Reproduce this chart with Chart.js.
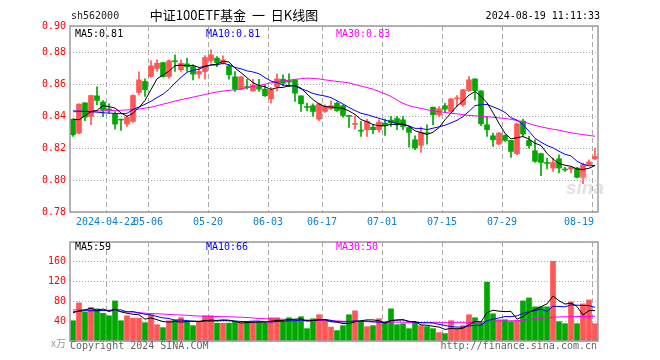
<!DOCTYPE html>
<html><head><meta charset="utf-8">
<script src="https://cdn.jsdelivr.net/npm/chart.js@4.4.0/dist/chart.umd.min.js"></script>
<style>
html,body{margin:0;padding:0;background:#fff;}
#wrap{position:relative;width:660px;height:360px;overflow:hidden;background:#fff;}
#pc{position:absolute;left:0;top:0;}
#vc{position:absolute;left:0;top:232px;}
</style></head><body>
<div id="wrap"><canvas id="pc" width="660" height="232"></canvas><canvas id="vc" width="660" height="128"></canvas></div>
<script>
const year = '2024';
const dates = ['04-12','04-15','04-16','04-17','04-18','04-19','04-22','04-23','04-24','04-25','04-26','04-29','04-30',
'05-06','05-07','05-08','05-09','05-10','05-13','05-14','05-15','05-16','05-17','05-20','05-21','05-22','05-23','05-24','05-27','05-28','05-29','05-30','05-31',
'06-03','06-04','06-05','06-06','06-07','06-11','06-12','06-13','06-14','06-17','06-18','06-19','06-20','06-21','06-24','06-25','06-26','06-27','06-28',
'07-01','07-02','07-03','07-04','07-05','07-08','07-09','07-10','07-11','07-12','07-15','07-16','07-17','07-18','07-19','07-22','07-23','07-24','07-25','07-26','07-29','07-30','07-31',
'08-01','08-02','08-05','08-06','08-07','08-08','08-09','08-12','08-13','08-14','08-15','08-16','08-19'];

const openP = [0.8381,0.8294,0.8483,0.8398,0.8527,0.8488,0.8442,0.8415,0.8379,0.8350,0.8367,0.8548,0.8617,
0.8648,0.8698,0.8735,0.8648,0.8744,0.8690,0.8727,0.8710,0.8663,0.8679,0.8748,0.8763,0.8731,0.8715,0.8646,0.8569,0.8581,0.8558,0.8585,0.8569,
0.8508,0.8585,0.8631,0.8623,0.8627,0.8527,0.8456,0.8465,0.8381,0.8429,0.8446,0.8481,0.8465,0.8400,0.8348,0.8310,0.8315,0.8331,0.8315,
0.8356,0.8375,0.8385,0.8377,0.8329,0.8252,0.8217,0.8296,0.8456,0.8408,0.8465,0.8429,0.8508,0.8471,0.8560,0.8633,0.8558,0.8346,0.8277,0.8225,0.8279,0.8248,0.8165,
0.8369,0.8248,0.8183,0.8165,0.8108,0.8075,0.8133,0.8067,0.8069,0.8075,0.8017,0.8096,0.8133];
const highP = [0.8383,0.8477,0.8485,0.8530,0.8583,0.8498,0.8477,0.8429,0.8381,0.8402,0.8533,0.8677,0.8633,
0.8748,0.8752,0.8737,0.8752,0.8783,0.8752,0.8763,0.8721,0.8700,0.8779,0.8815,0.8773,0.8777,0.8721,0.8679,0.8648,0.8631,0.8631,0.8631,0.8596,
0.8579,0.8665,0.8658,0.8665,0.8627,0.8527,0.8481,0.8477,0.8481,0.8471,0.8496,0.8488,0.8471,0.8402,0.8402,0.8367,0.8381,0.8346,0.8377,
0.8381,0.8398,0.8398,0.8398,0.8329,0.8277,0.8331,0.8346,0.8456,0.8460,0.8480,0.8510,0.8529,0.8567,0.8648,0.8633,0.8558,0.8398,0.8294,0.8298,0.8283,0.8248,0.8356,
0.8381,0.8273,0.8252,0.8169,0.8138,0.8138,0.8158,0.8079,0.8083,0.8079,0.8106,0.8127,0.8200];
const lowP = [0.8273,0.8288,0.8371,0.8346,0.8471,0.8396,0.8419,0.8319,0.8310,0.8335,0.8360,0.8533,0.8523,
0.8644,0.8679,0.8644,0.8638,0.8679,0.8679,0.8679,0.8627,0.8638,0.8631,0.8731,0.8710,0.8725,0.8631,0.8554,0.8565,0.8569,0.8554,0.8554,0.8523,
0.8481,0.8560,0.8590,0.8585,0.8492,0.8429,0.8433,0.8398,0.8371,0.8423,0.8440,0.8429,0.8394,0.8329,0.8319,0.8273,0.8273,0.8290,0.8300,
0.8279,0.8335,0.8315,0.8315,0.8205,0.8190,0.8173,0.8225,0.8346,0.8398,0.8423,0.8425,0.8460,0.8460,0.8554,0.8502,0.8340,0.8273,0.8210,0.8221,0.8242,0.8142,0.8158,
0.8273,0.8200,0.8110,0.8027,0.8069,0.8054,0.8044,0.8054,0.8044,0.8013,0.7977,0.8096,0.8127];
const closeP = [0.8283,0.8475,0.8394,0.8529,0.8498,0.8438,0.8438,0.8350,0.8375,0.8394,0.8529,0.8627,0.8565,
0.8715,0.8731,0.8648,0.8746,0.8740,0.8731,0.8710,0.8663,0.8679,0.8767,0.8783,0.8735,0.8752,0.8658,0.8569,0.8646,0.8579,0.8596,0.8569,0.8527,
0.8565,0.8633,0.8606,0.8613,0.8544,0.8477,0.8454,0.8429,0.8477,0.8460,0.8465,0.8435,0.8404,0.8398,0.8350,0.8306,0.8367,0.8315,0.8363,
0.8344,0.8358,0.8350,0.8335,0.8298,0.8200,0.8300,0.8290,0.8408,0.8446,0.8444,0.8508,0.8512,0.8565,0.8627,0.8560,0.8352,0.8315,0.8252,0.8294,0.8248,0.8179,0.8352,
0.8288,0.8215,0.8117,0.8110,0.8104,0.8110,0.8075,0.8063,0.8079,0.8017,0.8096,0.8113,0.8148];
const volume = [41,77,58,68,65,56,51,81,41,51,46,46,37,
53,33,27,41,43,47,39,31,39,51,51,36,36,36,39,36,39,39,39,36,
47,47,39,47,41,49,25,45,53,43,28,21,31,53,61,39,29,31,45,
37,65,33,35,25,39,31,29,25,17,15,41,25,31,53,47,37,119,55,43,43,39,41,
81,87,69,69,69,161,39,35,79,35,75,83,35];

const ma30Price = [0.8427,0.8428,0.8429,0.8430,0.8432,0.8433,0.8434,0.8436,0.8437,0.8439,0.8441,
0.8444,0.8450,0.8456,0.8465,0.8475,0.8484,0.8494,0.8503,0.8511,0.8519,
0.8527,0.8535,0.8544,0.8551,0.8557,0.8561,0.8565,0.8569,0.8578,0.8586,
0.8592,0.8600,0.8608,0.8615,0.8620,0.8625,0.8630,0.8634,0.8638,0.8636,
0.8633,0.8627,0.8622,0.8617,0.8613,0.8608,0.8598,0.8588,0.8579,0.8569,
0.8554,0.8540,0.8523,0.8500,0.8480,0.8465,0.8456,0.8448,0.8440,0.8433,
0.8428,0.8423,0.8418,0.8414,0.8409,0.8404,0.8402,0.8399,0.8396,0.8393,
0.8389,0.8385,0.8380,0.8372,0.8365,0.8354,0.8342,0.8333,0.8325,0.8318,
0.8312,0.8303,0.8296,0.8290,0.8284,0.8279,0.8274];
const ma5PriceLead = [0.8381,0.8377,0.8402,0.8429];
const ma10PriceLead = [0.8433,0.8431,0.8430,0.8427,0.8425,0.8421,0.8419,0.8417,0.8415];
const ma30Vol = [63,62.8,62.5,62.2,62,61.5,61,60.5,59.5,59,58.5,
57.5,56,55.5,55,54.5,53.5,53,52.5,52,51,
50.5,50,49.5,49.5,49,49,48.5,48,47.5,46.5,
45.5,45,44.5,44,44,43.5,43,42.5,42.5,42,
41.5,41,41,40.5,40,39.5,39.5,39,39,38.5,
38.5,38.5,38,38,38,37.5,37.5,37,37,37,
37,37,37,37,37,37,37.5,38.5,39.5,40,
40.5,40.5,41,41,42,43.5,45,46,47,48,
48.5,49,49,49.5,49.5,50,50];
const ma5VolLead = [57,61,63,66];
const ma10VolLead = [59,60,61,61,61,62,62,63,63];

// legend values as printed on the reference
const priceLegend = ['0.81', '0.81', '0.83'];
const volLegend = ['59', '66', '50'];

const priceTicks = [0.78,0.80,0.82,0.84,0.86,0.88];
const priceTop = 0.8964, priceTopLabel = '0.90';
const volTicks = [0,40,80,120,160,200];
const dateTicks = ['04-22','05-06','05-20','06-03','06-17','07-01','07-15','07-29','08-19'];

const UP = '#ff5656', DOWN = '#00a800';
const MONO = "'DejaVu Sans Mono', 'Liberation Mono', monospace";

function movingAvg(arr, n, lead) {
  return arr.map((v, i) => i < lead.length ? lead[i] : arr.slice(i - n + 1, i + 1).reduce((a, b) => a + b, 0) / n);
}
const candleColor = closeP.map((c, i) => c >= openP[i] ? UP : DOWN);
const ma5Price = movingAvg(closeP, 5, ma5PriceLead);
const ma10Price = movingAvg(closeP, 10, ma10PriceLead);
const ma5Vol = movingAvg(volume, 5, ma5VolLead);
const ma10Vol = movingAvg(volume, 10, ma10VolLead);
const tickIdx = dateTicks.map(d => dates.indexOf(d));

function xScaleOpts(h) {
  return {
    type: 'category', offset: true,
    grid: { offset: true, drawTicks: false, lineWidth: 1,
      color: c => tickIdx.includes(c.index) ? '#a8a8a8' : 'rgba(0,0,0,0)' },
    border: { display: false, dash: [5, 3] },
    ticks: { display: false },
    afterFit: s => { s.height = h; }
  };
}
const framePlugin = { id: 'frame', afterDraw(chart) {
  const a = chart.chartArea, ctx = chart.ctx;
  ctx.save(); ctx.strokeStyle = '#9a9a9a'; ctx.lineWidth = 1.5;
  ctx.strokeRect(a.left, a.top, a.right - a.left, a.bottom - a.top);
  ctx.restore();
}};
function lineDs(data, color, order) {
  return { type: 'line', data, borderColor: color, borderWidth: 1, pointRadius: 0, tension: 0, order, fill: false };
}

const priceText = { id: 'priceText', afterDraw(chart) {
  const ctx = chart.ctx, a = chart.chartArea, xs = chart.scales.x;
  ctx.save();
  ctx.textBaseline = 'middle';
  ctx.font = '10px ' + MONO; ctx.fillStyle = '#222'; ctx.textAlign = 'left';
  ctx.fillText('sh562000', 71, 16);
  ctx.textAlign = 'right'; ctx.fillStyle = '#000';
  ctx.fillText('2024-08-19 11:11:33', 600, 16);
  ctx.textAlign = 'center'; ctx.font = "13px 'Noto Sans CJK SC'"; ctx.fillStyle = '#000';
  ctx.fillText('中证100ETF基金  一  日K线图', 234, 15);
  ctx.font = '10px ' + MONO; ctx.textAlign = 'left';
  ctx.fillStyle = '#000'; ctx.fillText('MA5:' + priceLegend[0], 75, 34);
  ctx.fillStyle = '#0000ff'; ctx.fillText('MA10:' + priceLegend[1], 206, 34);
  ctx.fillStyle = '#ff00ff'; ctx.fillText('MA30:' + priceLegend[2], 336, 34);
  // date labels
  ctx.fillStyle = '#0a7fd0'; ctx.font = '10px ' + MONO;
  const slot = (a.right - a.left) / dates.length;
  tickIdx.forEach((ix, k) => {
    const x = xs.getPixelForValue(ix) - slot / 2;
    const txt = k === 0 ? year + '-' + dateTicks[k] : dateTicks[k];
    if (k === tickIdx.length - 1) { ctx.textAlign = 'right'; ctx.fillText(txt, a.right - 4, 222); }
    else { ctx.textAlign = 'center'; ctx.fillText(txt, x, 222); }
  });
  // watermark
  ctx.font = "bold italic 19px 'Liberation Sans'"; ctx.fillStyle = 'rgba(180,180,180,0.4)'; ctx.textAlign = 'left';
  ctx.fillText('sina', 566, 189);
  ctx.beginPath(); ctx.arc(584, 176, 4, 0, Math.PI * 2); ctx.fillStyle = 'rgba(240,160,160,0.35)'; ctx.fill();
  ctx.restore();
}};

new Chart(document.getElementById('pc'), {
  type: 'bar',
  data: { labels: dates, datasets: [
    lineDs(ma5Price, '#000000', 0),
    lineDs(ma10Price, '#0000ff', 1),
    lineDs(ma30Price, '#ff00ff', 2),
    { data: openP.map((o, i) => [o, closeP[i]]), backgroundColor: candleColor, barThickness: 5, minBarLength: 1, grouped: false, order: 3 },
    { data: lowP.map((l, i) => [l, highP[i]]), backgroundColor: candleColor, barThickness: 1, grouped: false, order: 4 }
  ]},
  options: {
    responsive: false, animation: false, events: [],
    layout: { padding: { top: 26, right: 62, left: 0, bottom: 0 } },
    plugins: { legend: { display: false }, tooltip: { enabled: false } },
    scales: {
      x: xScaleOpts(20),
      y: { min: 0.78, max: priceTop,
        afterBuildTicks: s => { s.ticks = priceTicks.concat([priceTop]).map(v => ({ value: v })); },
        afterFit: s => { s.width = 70; },
        grid: { color: '#a8a8a8', drawTicks: false, lineWidth: 1 },
        border: { display: false, dash: [1, 2] },
        ticks: { color: '#ff0000', font: { family: MONO, size: 10 }, padding: 4,
          callback: v => v > 0.89 ? priceTopLabel : Number(v).toFixed(2) } }
    }
  },
  plugins: [framePlugin, priceText]
});

const volText = { id: 'volText', afterDraw(chart) {
  const ctx = chart.ctx;
  ctx.save(); ctx.textBaseline = 'middle'; ctx.font = '10px ' + MONO; ctx.textAlign = 'left';
  ctx.fillStyle = '#000'; ctx.fillText('MA5:' + volLegend[0], 75, 15);
  ctx.fillStyle = '#0000ff'; ctx.fillText('MA10:' + volLegend[1], 206, 15);
  ctx.fillStyle = '#ff00ff'; ctx.fillText('MA30:' + volLegend[2], 336, 15);
  ctx.fillStyle = '#666'; ctx.fillText('Copyright 2024 SINA.COM', 70, 114);
  ctx.textAlign = 'right'; ctx.fillText('http://finance.sina.com.cn', 597, 114);
  ctx.font = "10px 'Noto Sans CJK SC'"; ctx.fillStyle = '#999'; ctx.fillText('x万', 66, 111);
  ctx.restore();
}};

new Chart(document.getElementById('vc'), {
  type: 'bar',
  data: { labels: dates, datasets: [
    lineDs(ma5Vol, '#000000', 0),
    lineDs(ma10Vol, '#0000ff', 1),
    lineDs(ma30Vol, '#ff00ff', 2),
    { data: volume, backgroundColor: candleColor, barThickness: 5, grouped: false, order: 3 }
  ]},
  options: {
    responsive: false, animation: false, events: [],
    layout: { padding: { top: 9, right: 62, left: 0, bottom: 0 } },
    plugins: { legend: { display: false }, tooltip: { enabled: false } },
    scales: {
      x: xScaleOpts(19),
      y: { min: 0, max: 200,
        afterBuildTicks: s => { s.ticks = volTicks.map(v => ({ value: v })); },
        afterFit: s => { s.width = 70; },
        grid: { color: '#a8a8a8', drawTicks: false, lineWidth: 1 },
        border: { display: false, dash: [1, 2] },
        ticks: { color: '#ff0000', font: { family: MONO, size: 10 }, padding: 4,
          callback: v => (v === 0 || v === 200) ? '' : String(v) } }
    }
  },
  plugins: [framePlugin, volText]
});
</script>
</body></html>
